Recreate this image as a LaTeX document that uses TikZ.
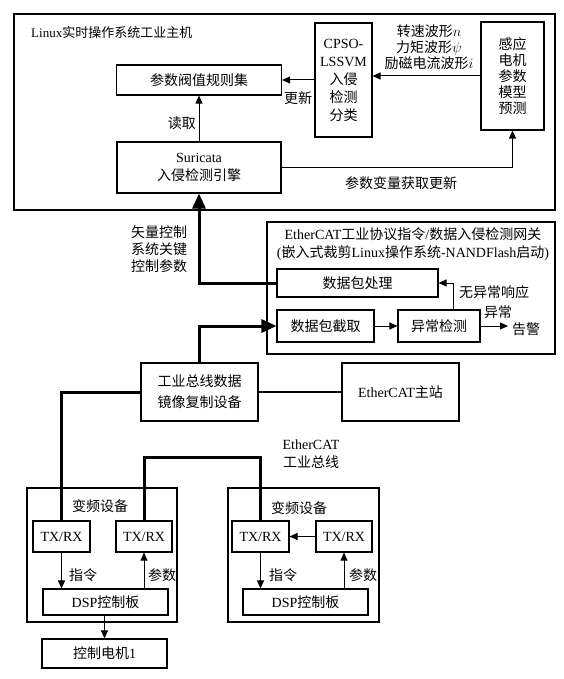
\documentclass[tikz,border=0pt]{standalone}
\usepackage{fontspec}
\setmainfont{Liberation Serif}
\newfontfamily\cjk{Noto Sans CJK SC}
\usetikzlibrary{arrows.meta}
\newcommand\zh[1]{{\cjk #1}}
\begin{document}
\begin{tikzpicture}[x=1pt,y=-1pt,
  box/.style={draw, line width=1.1pt, inner sep=0pt, align=center, font=\fontsize{14}{17}\selectfont},
  lbl/.style={inner sep=0pt, align=center, font=\fontsize{14}{17}\selectfont},
  arr/.style={line width=1pt, -{Triangle[length=8pt,width=7pt]}},
  thickarr/.style={line width=3pt, -{Triangle[length=15pt,width=13pt]}},
  bus/.style={line width=3pt, line join=miter},
]
\useasboundingbox (0,0) rectangle (564,679);
\fill[white] (0,0) rectangle (564,679);

% host
\node[draw, line width=2.5pt, minimum width=541pt, minimum height=196pt] (host) at (284.5,112) {};
\node[lbl, anchor=west, font=\fontsize{13}{15}\selectfont] (title) at (31,33) {Linux\zh{实时操作系统工业主机}};
\node[box, minimum width=165pt, minimum height=30pt] (rules) at (199,80) {\zh{参数阀值规则集}};
\node[box, minimum width=57pt, minimum height=114pt, font=\fontsize{14}{18}\selectfont] (cpso) at (343.5,80) {CPSO-\\LSSVM\\\zh{入侵}\\\zh{检测}\\\zh{分类}};
\node[box, minimum width=63pt, minimum height=108pt, font=\fontsize{14}{16}\selectfont] (sense) at (512.5,76) {\zh{感应}\\\zh{电机}\\\zh{参数}\\\zh{模型}\\\zh{预测}};
\node[box, minimum width=164pt, minimum height=51pt, font=\fontsize{14}{18}\selectfont] (suri) at (199,167.5) {Suricata\\\zh{入侵检测引擎}};

\node[lbl, font=\fontsize{14}{16}\selectfont] (wave) at (429,47) {\zh{转速波形}$n$\\\zh{力矩波形}$\psi$\\\zh{励磁电流波形}$i$};
\node[lbl] (upd) at (298,98) {\zh{更新}};
\node[lbl, anchor=east] (read) at (196,123) {\zh{读取}};
\node[lbl] (getupd) at (401,183) {\zh{参数变量获取更新}};

\draw[arr] (sense.west) -- (sense.west -| cpso.east);
\draw[arr] (cpso.west) -- (rules.east);
\draw[arr] (suri.north) -- (rules.south);
\draw[arr] (suri.east) -| (sense.south);

% gateway
\node[draw, line width=2pt, minimum width=288pt, minimum height=132pt] (gw) at (411,288) {};
\node[lbl, font=\fontsize{14}{18}\selectfont] (gwt) at (413,244) {EtherCAT\zh{工业协议指令}/\zh{数据入侵检测网关}\\(\zh{嵌入式裁剪}Linux\zh{操作系统}-NANDFlash\zh{启动})};
\node[box, minimum width=161pt, minimum height=28pt] (proc) at (357.5,283) {\zh{数据包处理}};
\node[box, minimum width=97pt, minimum height=32pt] (cap) at (325.5,326) {\zh{数据包截取}};
\node[box, minimum width=82pt, minimum height=32pt] (det) at (439,326) {\zh{异常检测}};
\node[lbl] (noab) at (494,292) {\zh{无异常响应}};
\node[lbl] (ab) at (498,312) {\zh{异常}};
\node[lbl] (alarm) at (526,329) {\zh{告警}};
\coordinate (alarmpt) at (508,326);
\draw[arr] (cap.east) -- (det.west);
\draw[arr] ([xshift=14pt]det.north) |- (proc.east);
\draw[arr] (det.east) -- (alarmpt);

\node[lbl, font=\fontsize{14}{17}\selectfont] (vec) at (159,249) {\zh{矢量控制}\\\zh{系统关键}\\\zh{控制参数}};
\draw[thickarr] (proc.west) -| (suri.south);

% mirror and master
\node[box, line width=1.3pt, minimum width=117pt, minimum height=58pt, font=\fontsize{14}{21}\selectfont] (mirror) at (199.5,392) {\zh{工业总线数据}\\\zh{镜像复制设备}};
\node[box, line width=1.3pt, minimum width=117pt, minimum height=58pt] (master) at (400.5,392) {EtherCAT\zh{主站}};
\draw[line width=2pt] (mirror.east) -- (master.west);
\draw[thickarr] (mirror.north) |- (cap.west);
\node[lbl, font=\fontsize{14}{18}\selectfont] (buslbl) at (311,454) {EtherCAT\\\zh{工业总线}};

% inverters
\node[draw, line width=1.5pt, minimum width=150pt, minimum height=134pt] (inv1) at (102,555) {};
\node[draw, line width=1.5pt, minimum width=151pt, minimum height=134pt] (inv2) at (303.5,555) {};
\node[lbl] (inv1l) at (100,506) {\zh{变频设备}};
\node[lbl] (inv2l) at (299,508) {\zh{变频设备}};
\node[box, minimum width=57pt, minimum height=31pt] (tx1) at (61.5,536.5) {TX/RX};
\node[box, minimum width=56pt, minimum height=31pt] (tx2) at (144,536.5) {TX/RX};
\node[box, minimum width=57pt, minimum height=31pt] (txa) at (260.5,536.5) {TX/RX};
\node[box, minimum width=56pt, minimum height=31pt] (txb) at (344,536.5) {TX/RX};
\node[box, minimum width=125pt, minimum height=26pt] (dsp1) at (105.5,602) {DSP\zh{控制板}};
\node[box, minimum width=125pt, minimum height=26pt] (dsp2) at (305.5,602) {DSP\zh{控制板}};
\node[box, minimum width=125pt, minimum height=29pt] (motor) at (104.5,653.5) {\zh{控制电机}1};

\node[lbl] (cmd1) at (83,575) {\zh{指令}};
\node[lbl] (par1) at (162,575) {\zh{参数}};
\node[lbl] (cmd2) at (283,575) {\zh{指令}};
\node[lbl] (par2) at (363,575) {\zh{参数}};

\draw[arr] (tx1.south) -- (tx1.south |- dsp1.north);
\draw[arr] (dsp1.north -| tx2.south) -- (tx2.south);
\draw[arr] (dsp1.south -| motor.north) -- (motor.north);
\draw[arr] (txb.west) -- (txa.east);
\draw[arr] (txa.south) -- (txa.south |- dsp2.north);
\draw[arr] (dsp2.north -| txb.south) -- (txb.south);

\coordinate (busL) at (144,457);
\coordinate (busR) at (260.5,457);
\draw[bus] (mirror.west) -| (tx1.north);
\draw[bus] (tx2.north) -- (busL) -- (busR) -- (txa.north);
\end{tikzpicture}
\end{document}
